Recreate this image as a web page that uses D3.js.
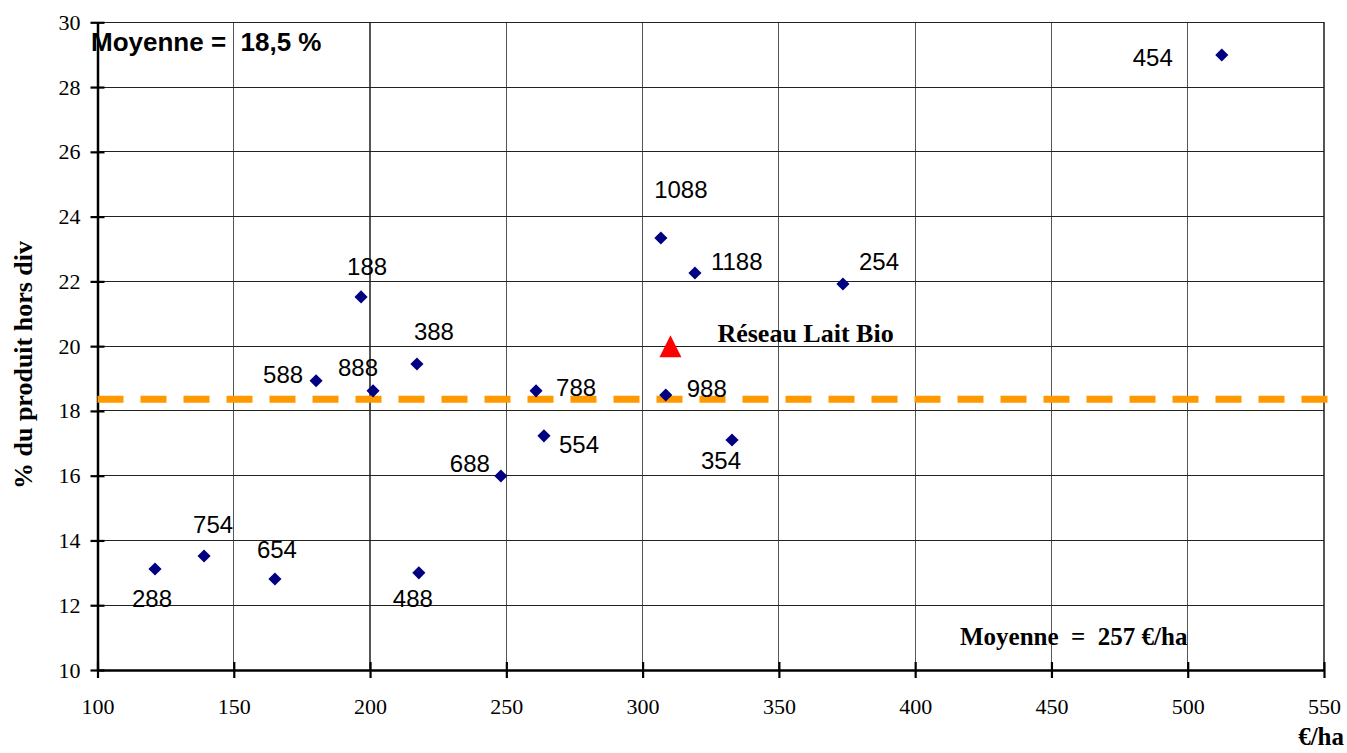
<!DOCTYPE html>
<html>
<head>
<meta charset="utf-8">
<script src="https://cdn.jsdelivr.net/npm/d3@7"></script>
<style>
  html, body { margin: 0; padding: 0; background: #fff; }
  svg { display: block; }
  text { white-space: pre; }
</style>
</head>
<body>
<svg id="chart" width="1347" height="753"></svg>
<script>
// ---- data ----
const pointLabels = ["288", "754", "654", "588", "188", "888", "388", "488", "688", "788", "554", "1088", "988", "1188", "354", "254", "454"];
const eurPerHa    = [121.1, 139.1, 165.1, 180.2, 196.7, 201.1, 217.2, 217.9, 248.0, 260.9, 263.8, 306.7, 308.5, 319.2, 332.8, 373.5, 512.5];
const pctProduit  = [13.12, 13.52, 12.81, 18.93, 21.52, 18.62, 19.45, 13.0, 15.99, 18.62, 17.23, 23.34, 18.49, 22.26, 17.1, 21.92, 28.99];
const reseauName = "Réseau Lait Bio";
const reseauX = [310.2];
const reseauY = [20.0];
const meanLineY = 18.36;
const meanLineX = [100, 551.5];
const xTicks = [100, 150, 200, 250, 300, 350, 400, 450, 500, 550];
const yTicks = [10, 12, 14, 16, 18, 20, 22, 24, 26, 28, 30];
const meanYText = "Moyenne =  18,5 %";
const meanXText = "Moyenne  =  257 €/ha";
const xTitle = "€/ha";
const yTitle = "% du produit hors div";

// label placement (layout only): [dx, dy, anchor]
const labelPlacement = [
  [-3, 30, "middle"], [9, -32, "middle"], [2, -29, "middle"], [-13, -6, "end"],
  [6, -30, "middle"], [-15, -23, "middle"], [17, -32, "middle"], [-6, 26, "middle"],
  [-11, -13, "end"], [20, -3, "start"], [15, 9, "start"], [20, -48, "middle"],
  [21, -7, "start"], [16, -11, "start"], [-11, 20, "middle"], [16, -22, "start"],
  [-49, 2, "end"]
];

// ---- chart ----
const svg = d3.select("#chart");
const x = d3.scaleLinear().domain([100, 550]).range([97.5, 1324]);
const y = d3.scaleLinear().domain([10, 30]).range([670, 22.3]);

// gridlines
svg.append("g").selectAll("line").data(xTicks).join("line")
  .attr("x1", d => x(d)).attr("x2", d => x(d))
  .attr("y1", y(30)).attr("y2", y(10))
  .attr("stroke", "#555").attr("stroke-width", 1.2).attr("shape-rendering", "crispEdges");
svg.append("g").selectAll("line").data(yTicks).join("line")
  .attr("x1", x(100)).attr("x2", x(550))
  .attr("y1", d => y(d)).attr("y2", d => y(d))
  .attr("stroke", "#222").attr("stroke-width", 1).attr("shape-rendering", "crispEdges");

// axes
const xAxis = d3.axisBottom(x).tickValues(xTicks).tickSizeInner(8).tickSizeOuter(0).tickPadding(20);
const gx = svg.append("g").attr("transform", `translate(0,${y(10)})`).call(xAxis);
gx.select(".domain").attr("stroke", "#000").attr("stroke-width", 2.5);
gx.selectAll(".tick line").attr("stroke", "#000").attr("stroke-width", 2.2).attr("y1", -8);
gx.selectAll(".tick text").attr("font-family", "'Liberation Serif', 'Times New Roman', serif")
  .attr("font-size", 22).attr("fill", "#000");

const yAxis = d3.axisLeft(y).tickValues(yTicks).tickSizeInner(7).tickSizeOuter(0).tickPadding(10);
const gy = svg.append("g").attr("transform", `translate(${x(100)},0)`).call(yAxis);
gy.select(".domain").attr("stroke", "#000").attr("stroke-width", 2.5);
gy.selectAll(".tick line").attr("stroke", "#000").attr("stroke-width", 2.2).attr("x1", 7);
gy.selectAll(".tick text").attr("font-family", "'Liberation Serif', 'Times New Roman', serif")
  .attr("font-size", 22).attr("fill", "#000");

// mean dashed line
svg.append("line")
  .attr("x1", x(meanLineX[0])).attr("x2", x(meanLineX[1]))
  .attr("y1", y(meanLineY)).attr("y2", y(meanLineY))
  .attr("stroke", "#FF9900").attr("stroke-width", 7)
  .attr("stroke-dasharray", "26 17");

// points
const pts = pointLabels.map((l, i) => ({ label: l, x: eurPerHa[i], y: pctProduit[i], pl: labelPlacement[i] }));
svg.append("g").selectAll("path").data(pts).join("path")
  .attr("d", d3.symbol(d3.symbolSquare, 86)())
  .attr("transform", d => `translate(${x(d.x)},${y(d.y)}) rotate(45)`)
  .attr("fill", "#000080");

svg.append("g").selectAll("text").data(pts).join("text")
  .attr("x", d => x(d.x) + d.pl[0])
  .attr("y", d => y(d.y) + d.pl[1])
  .attr("text-anchor", d => d.pl[2])
  .attr("dominant-baseline", "central")
  .attr("font-family", "'Liberation Sans', Arial, sans-serif")
  .attr("font-size", 24)
  .attr("fill", "#000")
  .text(d => d.label);

// Réseau Lait Bio triangle
svg.append("g").selectAll("path").data(reseauX).join("path")
  .attr("d", "M0,-11 L11,11 L-11,11 Z")
  .attr("transform", (d, i) => `translate(${x(d)},${y(reseauY[i])})`)
  .attr("fill", "#FF0000");
svg.append("text")
  .attr("x", x(reseauX[0]) + 47).attr("y", y(reseauY[0]) - 13)
  .attr("dominant-baseline", "central")
  .attr("font-family", "'Liberation Serif', 'Times New Roman', serif")
  .attr("font-weight", "bold").attr("font-size", 26).attr("fill", "#000")
  .text(reseauName);

// annotations
svg.append("text")
  .attr("x", 91).attr("y", 42)
  .attr("dominant-baseline", "central")
  .attr("font-family", "'Liberation Sans', Arial, sans-serif")
  .attr("font-weight", "bold").attr("font-size", 26).attr("fill", "#000")
  .text(meanYText);
svg.append("text")
  .attr("x", 960).attr("y", 636)
  .attr("dominant-baseline", "central")
  .attr("font-family", "'Liberation Serif', 'Times New Roman', serif")
  .attr("font-weight", "bold").attr("font-size", 25).attr("fill", "#000")
  .text(meanXText);

// axis titles
svg.append("text")
  .attr("x", 1344).attr("y", 736)
  .attr("text-anchor", "end")
  .attr("dominant-baseline", "central")
  .attr("font-family", "'Liberation Serif', 'Times New Roman', serif")
  .attr("font-weight", "bold").attr("font-size", 25).attr("fill", "#000")
  .text(xTitle);
svg.append("text")
  .attr("transform", "translate(23,365) rotate(-90)")
  .attr("text-anchor", "middle")
  .attr("dominant-baseline", "central")
  .attr("font-family", "'Liberation Serif', 'Times New Roman', serif")
  .attr("font-weight", "bold").attr("font-size", 26).attr("fill", "#000")
  .text(yTitle);
</script>
</body>
</html>
